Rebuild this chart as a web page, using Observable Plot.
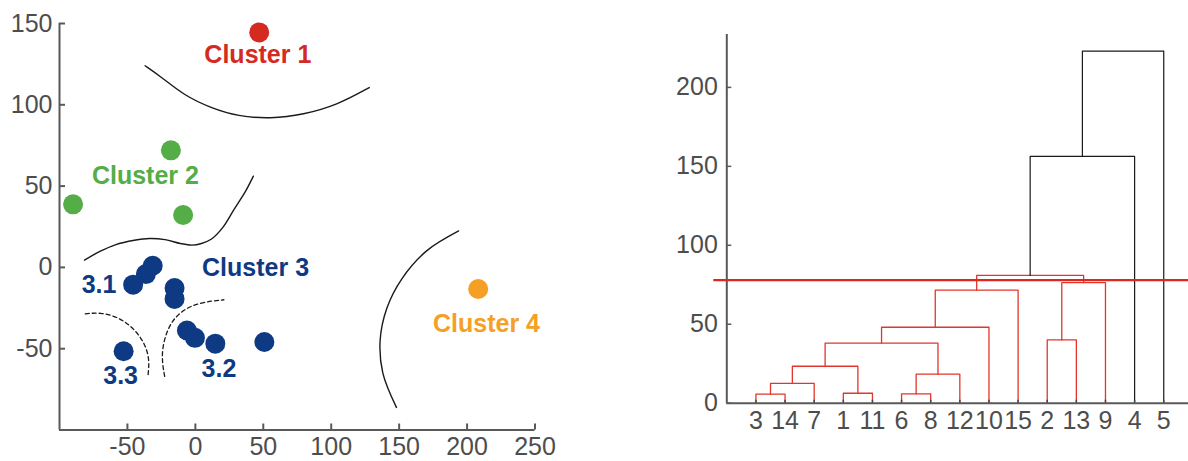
<!DOCTYPE html>
<html><head><meta charset="utf-8">
<script src="https://cdn.jsdelivr.net/npm/d3@7"></script>
<script src="https://cdn.jsdelivr.net/npm/@observablehq/plot@0.6"></script>
<style>
body{margin:0;background:#fff;}
#wrap{display:flex;width:1188px;height:461px;overflow:hidden;}
</style></head><body><div id="wrap"></div>
<script>
const FONT = "'Liberation Sans', Arial, Helvetica, sans-serif";
const AXIS = "#595959";
const TICKTEXT = "#4d4d4d";

// ---------- scatter data ----------
const pointCluster = ["1","2","2","2","3","3","3","3","3","3","3","3","3","3","4"];
const pointX = [47, -18, -90, -9, -31.4, -36.4, -45.8, -15.3, -15.3, -6.2, -0.3, 14.7, 50.8, -52.8, 208.2];
const pointY = [144.5, 72, 38.8, 32.2, 1.0, -4.1, -10.6, -12.7, -19.4, -38.8, -43.3, -46.9, -45.9, -51.6, -13.3];
const clusterColors = {"1": "#d42a1f", "2": "#54ad46", "3": "#0e3a83", "4": "#f5a025"};

const labelText = ["Cluster 1", "Cluster 2", "Cluster 3", "Cluster 4", "3.1", "3.2", "3.3"];
const labelCluster = ["1", "2", "3", "4", "3", "3", "3"];
const labelX = [46, -36.8, 44.3, 214.3, -70.9, 17.4, -55];
const labelY = [130.5, 56.3, -0.3, -34.6, -11.1, -62.4, -66.5];

const scatterXTicks = [-50, 0, 50, 100, 150, 200, 250];
const scatterYTicks = [-50, 0, 50, 100, 150];

// boundaries (solid)
const boundaryCluster1 = [[-37,124],[-25,117.1],[-8.2,105.7],[11.6,98],[31.4,92.9],[55.4,91.4],[79.4,93.9],[104.8,100],[128,110.6]];
const boundaryCluster2 = [[-81.6,4.5],[-70.3,9.8],[-59,13.9],[-44.9,16.7],[-33.6,17.8],[-22.3,17.1],[-11,14.7],[-2.5,13.7],[4.5,14.7],[11.6,17.3],[20.1,24.5],[28.5,35.7],[37,46.9],[42.7,56.1]];
const boundaryCluster4 = [[193.8,22.4],[170,10],[152,-7],[141,-25],[136,-45],[138,-65],[148,-86.1]];
// sub-cluster boundaries (dashed)
const boundarySub33 = [[-81,-28.6],[-70.3,-27.6],[-56.2,-30.6],[-44.9,-37.8],[-37,-46.9],[-33.6,-57.1],[-35,-67.3]];
const boundarySub32 = [[-22.6,-67],[-25.5,-53.1],[-20.6,-36.8],[-10.8,-26.5],[3.9,-21.4],[21,-19.9]];

// ---------- dendrogram data ----------
const leafLabels = [3,14,7,1,11,6,8,12,10,15,2,13,9,4,5];
const mergeName  = ["A","B","C","D","E","F","G","H","I","J","K","L","M","N"];
const mergeLeft  = ["3","A","1","B","6","E","D","G","H","2","J","I","L","M"];
const mergeRight = ["14","7","11","C","8","12","F","10","15","13","9","K","4","5"];
const mergeHeight = [5.7,12.5,6.3,23.4,5.9,18.4,38,48.1,71.6,40.1,76.4,80.9,156.3,223];
const colorThreshold = [155.7];
const cutHeight = [78];
const dendroYTicks = [0, 50, 100, 150, 200];

const points = pointX.map((x, i) => ({x, y: pointY[i], c: pointCluster[i]}));
const labels = labelText.map((t, i) => ({t, x: labelX[i], y: labelY[i], c: labelCluster[i]}));
const xy = {x: d => d[0], y: d => d[1]};
const fmt = d => String(d); // plain hyphen-minus like the reference

const W = 594, H = 461;
const sMT = 23, sMB = 31.5, sML = 59, sMR = 59.5;
const left = Plot.plot({
  width: W, height: H,
  marginTop: sMT, marginBottom: sMB, marginLeft: sML, marginRight: sMR,
  x: {domain: [-100, 250]},
  y: {domain: [-100, 150]},
  style: {fontFamily: FONT, background: "#fff", overflow: "hidden"},
  marks: [
    Plot.line(boundaryCluster1, {...xy, curve: "basis", stroke: "#1a1a1a", strokeWidth: 1.4}),
    Plot.line(boundaryCluster2, {...xy, curve: "catmull-rom", stroke: "#1a1a1a", strokeWidth: 1.4}),
    Plot.line(boundaryCluster4, {...xy, curve: "catmull-rom", stroke: "#1a1a1a", strokeWidth: 1.4}),
    Plot.line(boundarySub33, {...xy, curve: "basis", stroke: "#1a1a1a", strokeWidth: 1.3, strokeDasharray: "4,3"}),
    Plot.line(boundarySub32, {...xy, curve: "basis", stroke: "#1a1a1a", strokeWidth: 1.3, strokeDasharray: "4,3"}),
    Plot.dot(points, {x: "x", y: "y", r: 10, fill: d => clusterColors[d.c], stroke: "none"}),
    Plot.text(labels, {x: "x", y: "y", text: "t", fill: d => clusterColors[d.c], fontSize: 25, fontWeight: "bold", fontFamily: FONT}),
    Plot.tickX(scatterXTicks, {x: d => d, stroke: AXIS, strokeWidth: 2, insetTop: (H - sMT - sMB) - 6}),
    Plot.tickY(scatterYTicks, {y: d => d, stroke: AXIS, strokeWidth: 2, insetRight: (W - sML - sMR) - 6}),
    Plot.ruleX([-100], {stroke: AXIS, strokeWidth: 2}),
    Plot.ruleY([-100], {stroke: AXIS, strokeWidth: 2}),
    Plot.axisX(scatterXTicks, {tickSize: 0, tickPadding: 7, fontSize: 25, fill: TICKTEXT, label: null, tickFormat: fmt}),
    Plot.axisY(scatterYTicks, {tickSize: 0, tickPadding: 7, fontSize: 25, fill: TICKTEXT, label: null, tickFormat: fmt})
  ]
});

// dendrogram geometry from the merge table
const pos = {};
leafLabels.forEach((l, i) => { pos[String(l)] = {x: i + 1, h: 0}; });
const segs = [];
mergeName.forEach((name, i) => {
  const a = pos[mergeLeft[i]], b = pos[mergeRight[i]], h = mergeHeight[i];
  pos[name] = {x: (a.x + b.x) / 2, h};
  const grp = h < colorThreshold[0] ? "low" : "high";
  [[a.x, a.h], [a.x, h], [b.x, h], [b.x, b.h]].forEach(p => segs.push({m: name, g: grp, x: p[0], y: p[1]}));
});

const dMT = 34, dMB = 58.3, dML = 132.3, dMR = 0;
const leafTicks = leafLabels.map((_, i) => i + 1);
const right = Plot.plot({
  width: W, height: H,
  marginTop: dMT, marginBottom: dMB, marginLeft: dML, marginRight: dMR,
  x: {domain: [0, 15.85]},
  y: {domain: [0, 233.5]},
  style: {fontFamily: FONT, background: "#fff", overflow: "hidden"},
  marks: [
    Plot.line(segs.filter(d => d.g === "low"), {x: "x", y: "y", z: "m", stroke: "#e2362c", strokeWidth: 1.3}),
    Plot.line(segs.filter(d => d.g === "high"), {x: "x", y: "y", z: "m", stroke: "#1a1a1a", strokeWidth: 1.2}),
    Plot.tickX(leafTicks, {x: d => d, stroke: "#444", strokeWidth: 1.5, insetTop: (H - dMT - dMB) - 3}),
    Plot.tickY(dendroYTicks, {y: d => d, stroke: AXIS, strokeWidth: 1.5, insetRight: (W - dML - dMR) - 5}),
    Plot.ruleX([0], {stroke: AXIS, strokeWidth: 2}),
    Plot.ruleY([0], {stroke: AXIS, strokeWidth: 2}),
    Plot.ruleY(cutHeight, {stroke: "#e0261d", strokeWidth: 2.2, insetLeft: -13}),
    Plot.axisX(leafTicks, {tickSize: 0, tickPadding: 8, fontSize: 25, fill: TICKTEXT, label: null, tickFormat: i => String(leafLabels[i - 1])}),
    Plot.axisY(dendroYTicks, {tickSize: 0, tickPadding: 9, fontSize: 25, fill: TICKTEXT, label: null, tickFormat: fmt})
  ]
});

document.getElementById("wrap").append(left, right);
</script></body></html>
